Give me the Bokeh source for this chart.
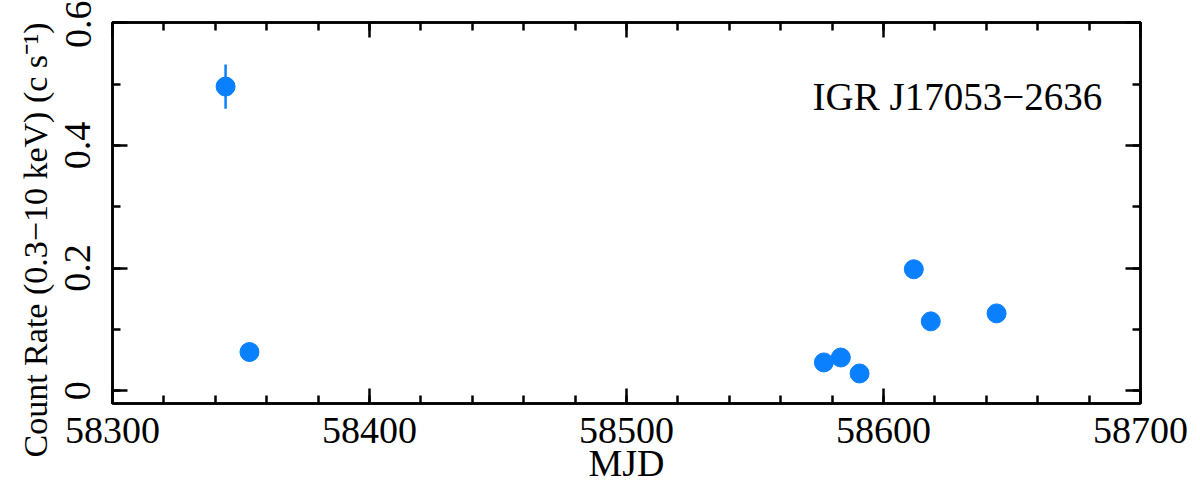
import math
from bokeh.plotting import figure
from bokeh.models import Range1d, LinearAxis, SingleIntervalTicker, Label, ColumnDataSource, Title
from bokeh.embed import file_html
from bokeh.resources import INLINE

# Data
mjd = [58344.0, 58353.3, 58576.8, 58583.4, 58590.7, 58611.8, 58618.4, 58644.0]
rate = [0.496, 0.063, 0.046, 0.054, 0.028, 0.198, 0.113, 0.126]
rate_err = [0.036, 0.006, 0.005, 0.005, 0.004, 0.008, 0.006, 0.006]
source_name = "IGR J17053\u22122636"
x_label = "MJD"
y_label = "Count Rate (0.3\u221210 keV) (c s\u207b\u00b9)"

FONT = "Liberation Serif"
BLUE = "#0a80ff"

src = ColumnDataSource(dict(
    x=mjd, y=rate,
    lo=[r - e for r, e in zip(rate, rate_err)],
    hi=[r + e for r, e in zip(rate, rate_err)],
))

p = figure(width=1200, height=490, output_backend="svg", toolbar_location=None,
           x_range=Range1d(58300, 58700), y_range=Range1d(-0.021, 0.6005),
           min_border_left=112, min_border_right=60, min_border_top=22, min_border_bottom=87,
           x_axis_type=None, y_axis_type=None)
p.grid.visible = False
p.outline_line_color = "black"
p.outline_line_width = 2.5
p.background_fill_color = "white"

def style_axis(ax, show_labels):
    ax.axis_line_width = 2.5
    ax.axis_line_color = "black"
    ax.major_tick_in = 15
    ax.major_tick_out = 0
    ax.minor_tick_in = 8
    ax.minor_tick_out = 0
    ax.major_tick_line_width = 2.5
    ax.minor_tick_line_width = 2.5
    ax.major_label_text_font = FONT
    ax.axis_label_text_font = FONT
    ax.axis_label_text_font_style = "normal"
    ax.major_label_text_color = "black"
    ax.axis_label_text_color = "black"
    if show_labels:
        ax.major_label_text_font_size = "38px"
        ax.axis_label_text_font_size = "38px"
    else:
        ax.major_label_text_font_size = "0px"
        ax.major_label_standoff = 0

def xt():
    return SingleIntervalTicker(interval=100, num_minor_ticks=5)

def yt():
    return SingleIntervalTicker(interval=0.2, num_minor_ticks=2)

xb = LinearAxis(ticker=xt(), axis_label=x_label)
style_axis(xb, True)
xb.major_label_standoff = 14
xb.axis_label_standoff = -4
p.add_layout(xb, "below")

yl = LinearAxis(ticker=yt())
style_axis(yl, True)
yl.major_label_orientation = "vertical"
yl.major_label_standoff = 22
p.add_layout(yl, "left")

xa = LinearAxis(ticker=xt())
style_axis(xa, False)
p.add_layout(xa, "above")

yr = LinearAxis(ticker=yt())
style_axis(yr, False)
p.add_layout(yr, "right")

p.segment(x0="x", y0="lo", x1="x", y1="hi", source=src, line_color=BLUE, line_width=2.5)
p.scatter(x="x", y="y", source=src, size=19, fill_color=BLUE, line_color=BLUE)

p.add_layout(Label(x=58572.4, y=0.48, text=source_name, text_font=FONT,
                   text_font_size="39px", text_baseline="alphabetic", text_align="left",
                   text_color="black"))

# y axis title in the left panel, shifted downward like the reference
p.add_layout(Title(text=y_label, align="left", offset=-54, text_font=FONT,
                   text_font_size="34px", text_font_style="normal", text_color="black",
                   standoff=18), "left")

open("out.html", "w").write(file_html(p, INLINE))
